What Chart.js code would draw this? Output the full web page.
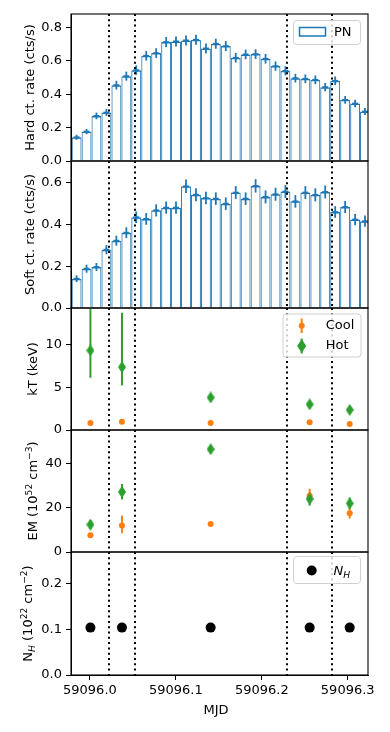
<!DOCTYPE html>
<html><head><meta charset="utf-8">
<script src="https://cdn.jsdelivr.net/npm/chart.js@4/dist/chart.umd.min.js"></script>
<style>
html,body{margin:0;padding:0;background:#fff;width:390px;height:732px;overflow:hidden;position:relative;}
canvas{position:absolute;left:0;}
</style></head><body>
<script>
// ---------------- DATA ----------------
const binMJD = [59095.9845,59095.9961,59096.0076,59096.0192,59096.0308,59096.0424,59096.0539,59096.0655,59096.0771,59096.0887,
  59096.1002,59096.1118,59096.1234,59096.1350,59096.1465,59096.1581,59096.1697,59096.1812,59096.1928,59096.2044,
  59096.2160,59096.2275,59096.2391,59096.2507,59096.2623,59096.2738,59096.2854,59096.2970,59096.3086,59096.3201];
const hardRate = [0.142,0.176,0.270,0.290,0.454,0.508,0.544,0.630,0.646,0.712,0.716,0.722,0.726,0.674,0.702,
  0.688,0.618,0.638,0.640,0.612,0.568,0.540,0.496,0.492,0.486,0.442,0.480,0.366,0.344,0.296];
const hardErr = [0.015,0.016,0.020,0.021,0.026,0.027,0.028,0.029,0.029,0.030,0.030,0.030,0.030,0.030,0.030,
  0.030,0.029,0.029,0.029,0.029,0.028,0.027,0.026,0.026,0.026,0.025,0.026,0.023,0.022,0.021];
const softRate = [0.140,0.188,0.196,0.279,0.322,0.360,0.434,0.426,0.467,0.480,0.480,0.582,0.542,0.526,0.523,
  0.499,0.552,0.523,0.584,0.531,0.544,0.557,0.510,0.552,0.541,0.555,0.459,0.483,0.423,0.415];
const softErr = [0.016,0.019,0.019,0.022,0.024,0.026,0.028,0.028,0.029,0.029,0.029,0.032,0.031,0.030,0.030,
  0.030,0.031,0.030,0.032,0.031,0.031,0.031,0.030,0.031,0.031,0.031,0.028,0.029,0.027,0.027];

const specMJD  = [59096.0006,59096.0373,59096.1405,59096.2557,59096.3023];
const kTCool   = [0.82,0.97,0.82,0.90,0.70];
const kTCoolLo = [0.76,0.89,0.77,0.84,0.64];
const kTCoolHi = [0.88,1.05,0.87,0.96,0.76];
const kTHot    = [9.3,7.35,3.8,3.0,2.35];
const kTHotLo  = [6.1,5.2,3.5,2.7,2.05];
const kTHotHi  = [16.5,13.7,4.1,3.3,2.65];
const emCool   = [7.6,12.0,12.7,25.5,17.5];
const emCoolLo = [6.5,8.5,11.9,23.0,15.2];
const emCoolHi = [8.7,16.5,13.5,28.6,19.8];
const emHot    = [12.4,27.2,46.5,24.0,22.0];
const emHotLo  = [10.4,23.8,44.8,21.0,19.5];
const emHotHi  = [14.4,30.8,48.3,27.0,24.6];
const nH       = [0.104,0.104,0.104,0.104,0.104];

const splitMJD  = [59096.0225,59096.0520,59096.2293,59096.2820];
const xTicks    = [59096.0,59096.1,59096.2,59096.3];
const hardTicks = [0,0.2,0.4,0.6,0.8];
const softTicks = [0,0.2,0.4,0.6];
const kTTicks   = [0,5,10];
const emTicks   = [0,20,40];
const nHTicks   = [0,0.1,0.2];

// ---------------- STYLE ----------------
const FONT = '"DejaVu Sans", sans-serif';
const BLUE = '#1f77b4', ORANGE = '#ff7f0e', GREEN = '#2ca02c';
const X_MIN = 59095.978, X_MAX = 59096.3236;
Chart.defaults.font.family = FONT;
Chart.defaults.font.size = 13;
Chart.defaults.color = '#000';

function drawRich(ctx, segs, x, y, rot, align, size){
  size = size || 13;
  ctx.save(); ctx.translate(x, y); ctx.rotate(rot || 0);
  const parts = segs.map(s => {
    const fs = (s.sup || s.sub) ? size * 0.7 : size;
    const font = (s.it ? 'italic ' : '') + fs + 'px ' + FONT;
    ctx.font = font;
    return {t: s.t, font, w: ctx.measureText(s.t).width, dy: s.sup ? -size * 0.38 : (s.sub ? size * 0.22 : 0)};
  });
  const total = parts.reduce((a, p) => a + p.w, 0);
  let cx = align === 'center' ? -total / 2 : 0;
  ctx.fillStyle = '#000'; ctx.textAlign = 'left'; ctx.textBaseline = 'alphabetic';
  const base = size * 0.36;
  parts.forEach(p => { ctx.font = p.font; ctx.fillText(p.t, cx, base + p.dy); cx += p.w; });
  ctx.restore();
}
function diamondPath(ctx, x, y, w, h){
  ctx.beginPath(); ctx.moveTo(x, y - h / 2); ctx.lineTo(x + w / 2, y); ctx.lineTo(x, y + h / 2); ctx.lineTo(x - w / 2, y); ctx.closePath();
}
function diamondImg(w, h, color){
  const c = document.createElement('canvas'); c.width = w; c.height = h;
  const g = c.getContext('2d'); g.fillStyle = color; diamondPath(g, w / 2, h / 2, w, h); g.fill();
  return c;
}
function legendBox(ctx, x, y, w, h){
  const r = 3;
  ctx.save();
  ctx.beginPath();
  ctx.moveTo(x + r, y); ctx.lineTo(x + w - r, y); ctx.arcTo(x + w, y, x + w, y + r, r);
  ctx.lineTo(x + w, y + h - r); ctx.arcTo(x + w, y + h, x + w - r, y + h, r);
  ctx.lineTo(x + r, y + h); ctx.arcTo(x, y + h, x, y + h - r, r);
  ctx.lineTo(x, y + r); ctx.arcTo(x, y, x + r, y, r); ctx.closePath();
  ctx.fillStyle = 'rgba(255,255,255,0.8)'; ctx.fill();
  ctx.strokeStyle = '#d0d0d0'; ctx.lineWidth = 1; ctx.stroke();
  ctx.restore();
}
function legendText(ctx, t, x, y){
  ctx.save(); ctx.font = '13px ' + FONT; ctx.fillStyle = '#000'; ctx.textAlign = 'left'; ctx.textBaseline = 'middle';
  ctx.fillText(t, x, y); ctx.restore();
}
function drawErrs(chart, list){
  const {ctx, chartArea: a, scales: {x, y}} = chart;
  ctx.save(); ctx.beginPath(); ctx.rect(a.left, a.top, a.right - a.left, a.bottom - a.top); ctx.clip();
  list.forEach(e => {
    ctx.strokeStyle = e.color; ctx.lineWidth = e.lw;
    e.xs.forEach((xv, i) => {
      const px = x.getPixelForValue(xv);
      ctx.beginPath(); ctx.moveTo(px, y.getPixelForValue(e.lo[i])); ctx.lineTo(px, y.getPixelForValue(e.hi[i])); ctx.stroke();
      if (e.mid && e.hw) {
        const py = y.getPixelForValue(e.mid[i]);
        ctx.beginPath(); ctx.moveTo(px - e.hw, py); ctx.lineTo(px + e.hw, py); ctx.stroke();
      }
    });
  });
  ctx.restore();
}
function panelPlugin(cfg){
  return {
    id: 'panel_' + cfg.key,
    beforeDatasetsDraw(chart){ drawErrs(chart, cfg.errsBelow || []); },
    afterDatasetsDraw(chart){
      drawErrs(chart, cfg.errsAbove || []);
      const {ctx, chartArea: a, scales: {x}} = chart;
      ctx.save();
      ctx.strokeStyle = '#000'; ctx.lineWidth = 2; ctx.setLineDash([2, 3.3]);
      splitMJD.forEach(v => {
        const px = Math.round(x.getPixelForValue(v));
        ctx.beginPath(); ctx.moveTo(px, a.top); ctx.lineTo(px, a.bottom); ctx.stroke();
      });
      ctx.restore();
      ctx.save(); ctx.strokeStyle = '#000'; ctx.lineWidth = 1.1;
      ctx.strokeRect(a.left, a.top, a.right - a.left, a.bottom - a.top); ctx.restore();
    },
    afterDraw(chart){
      const {ctx, chartArea: a} = chart;
      drawRich(ctx, cfg.ytitle, cfg.titleX, (a.top + a.bottom) / 2, -Math.PI / 2, 'center');
      ctx.save(); ctx.translate(0, -cfg.top);
      if (cfg.legend) cfg.legend(ctx);
      if (cfg.xtitle) drawRich(ctx, [{t: cfg.xtitle}], 216, 709, 0, 'center');
      ctx.restore();
    }
  };
}
function xAxis(show){
  return {
    type: 'linear', min: X_MIN, max: X_MAX, display: show, offset: false,
    afterBuildTicks: s => { s.ticks = xTicks.map(v => ({value: v})); },
    afterFit: s => { if (show) s.height = 57; },
    ticks: {autoSkip: false, maxRotation: 0, padding: 3, callback: v => Number(v).toFixed(1), font: {size: 13, family: FONT}, color: '#000'},
    grid: {drawOnChartArea: false, offset: false, tickLength: 5, color: '#000', lineWidth: 1},
    border: {display: true, color: '#000', width: 1},
    title: {display: false}
  };
}
function yAxis(min, max, ticks, dec){
  return {
    type: 'linear', min, max, beginAtZero: true,
    afterBuildTicks: s => { s.ticks = ticks.map(v => ({value: v})); },
    afterFit: s => { s.width = 71; },
    ticks: {autoSkip: false, padding: 4, callback: v => Number(v).toFixed(dec), font: {size: 13, family: FONT}, color: '#000'},
    grid: {drawOnChartArea: false, tickLength: 5, color: '#000', lineWidth: 1},
    border: {display: true, color: '#000', width: 1},
    title: {display: false}
  };
}
function makeCanvas(top, h){
  const c = document.createElement('canvas');
  c.width = 390; c.height = h;
  c.style.top = top + 'px'; c.style.width = '390px'; c.style.height = h + 'px';
  document.body.appendChild(c);
  return c;
}
function baseOptions(last, y){
  return {
    responsive: false, animation: false, events: [], devicePixelRatio: 1,
    layout: {padding: {left: 0, right: 22, top: 14, bottom: last ? 0 : 14}},
    plugins: {legend: {display: false}, tooltip: {enabled: false}},
    scales: {x: xAxis(last), y}
  };
}
const PAD = 14;
const HIST_BORDER = {top: 1.5, left: 0.95, right: 0.95, bottom: 0};
// Panel 1: hard
(function(){
  const top = 14 - PAD, h = 147 + 2 * PAD;
  new Chart(makeCanvas(top, h), {
    type: 'bar',
    data: {datasets: [{
      data: binMJD.map((x, i) => ({x, y: hardRate[i]})),
      borderColor: BLUE, backgroundColor: 'rgba(0,0,0,0)',
      borderWidth: HIST_BORDER, borderSkipped: false, inflateAmount: 0,
      categoryPercentage: 1, barPercentage: 1
    }]},
    options: baseOptions(false, yAxis(0, 0.88, hardTicks, 1)),
    plugins: [panelPlugin({
      key: 'hard', top, titleX: 29.5, ytitle: [{t: 'Hard ct. rate (cts/s)'}],
      errsAbove: [{xs: binMJD, lo: hardRate.map((v, i) => v - hardErr[i]), hi: hardRate.map((v, i) => v + hardErr[i]), mid: hardRate, hw: 3, color: BLUE, lw: 1.8}],
      legend: ctx => {
        legendBox(ctx, 293.5, 20.5, 67, 24);
        ctx.save(); ctx.strokeStyle = BLUE; ctx.lineWidth = 1.5; ctx.strokeRect(299.5, 27.5, 26, 8.5); ctx.restore();
        legendText(ctx, 'PN', 334, 32.5);
      }
    })]
  });
})();
// Panel 2: soft
(function(){
  const top = 161 - PAD, h = 147 + 2 * PAD;
  new Chart(makeCanvas(top, h), {
    type: 'bar',
    data: {datasets: [{
      data: binMJD.map((x, i) => ({x, y: softRate[i]})),
      borderColor: BLUE, backgroundColor: 'rgba(0,0,0,0)',
      borderWidth: HIST_BORDER, borderSkipped: false, inflateAmount: 0,
      categoryPercentage: 1, barPercentage: 1
    }]},
    options: baseOptions(false, yAxis(0, 0.703, softTicks, 1)),
    plugins: [panelPlugin({
      key: 'soft', top, titleX: 29, ytitle: [{t: 'Soft ct. rate (cts/s)'}],
      errsAbove: [{xs: binMJD, lo: softRate.map((v, i) => v - softErr[i]), hi: softRate.map((v, i) => v + softErr[i]), mid: softRate, hw: 3, color: BLUE, lw: 1.8}]
    })]
  });
})();
const hotImg = diamondImg(8, 12, GREEN);
// Panel 3: kT
(function(){
  const top = 308 - PAD, h = 122 + 2 * PAD;
  new Chart(makeCanvas(top, h), {
    type: 'scatter',
    data: {datasets: [
      {label: 'Hot', data: specMJD.map((x, i) => ({x, y: kTHot[i]})), pointStyle: hotImg, pointRadius: 6, order: 0},
      {label: 'Cool', data: specMJD.map((x, i) => ({x, y: kTCool[i]})), pointStyle: 'circle', pointRadius: 3, backgroundColor: ORANGE, borderColor: ORANGE, borderWidth: 0, order: 1}
    ]},
    options: baseOptions(false, yAxis(0, 14.25, kTTicks, 0)),
    plugins: [panelPlugin({
      key: 'kt', top, titleX: 32.3, ytitle: [{t: 'kT (keV)'}],
      errsBelow: [
        {xs: specMJD, lo: kTCoolLo, hi: kTCoolHi, color: ORANGE, lw: 2},
        {xs: specMJD, lo: kTHotLo, hi: kTHotHi, color: GREEN, lw: 2}
      ],
      legend: ctx => {
        legendBox(ctx, 283, 314, 78, 43);
        ctx.save();
        ctx.strokeStyle = ORANGE; ctx.lineWidth = 2; ctx.beginPath(); ctx.moveTo(301.7, 318.5); ctx.lineTo(301.7, 333); ctx.stroke();
        ctx.fillStyle = ORANGE; ctx.beginPath(); ctx.arc(301.7, 325.7, 3, 0, Math.PI * 2); ctx.fill();
        ctx.strokeStyle = GREEN; ctx.beginPath(); ctx.moveTo(301.7, 338.5); ctx.lineTo(301.7, 353.5); ctx.stroke();
        ctx.fillStyle = GREEN; diamondPath(ctx, 301.7, 346, 9, 14); ctx.fill();
        ctx.restore();
        legendText(ctx, 'Cool', 325.7, 326);
        legendText(ctx, 'Hot', 325.7, 346);
      }
    })]
  });
})();
// Panel 4: EM
(function(){
  const top = 430 - PAD, h = 122 + 2 * PAD;
  new Chart(makeCanvas(top, h), {
    type: 'scatter',
    data: {datasets: [
      {label: 'Hot', data: specMJD.map((x, i) => ({x, y: emHot[i]})), pointStyle: hotImg, pointRadius: 6, order: 0},
      {label: 'Cool', data: specMJD.map((x, i) => ({x, y: emCool[i]})), pointStyle: 'circle', pointRadius: 3, backgroundColor: ORANGE, borderColor: ORANGE, borderWidth: 0, order: 1}
    ]},
    options: baseOptions(false, yAxis(0, 55.2, emTicks, 0)),
    plugins: [panelPlugin({
      key: 'em', top, titleX: 32,
      ytitle: [{t: 'EM (10'}, {t: '52', sup: 1}, {t: ' cm'}, {t: '\u22123', sup: 1}, {t: ')'}],
      errsBelow: [
        {xs: specMJD, lo: emCoolLo, hi: emCoolHi, color: ORANGE, lw: 2},
        {xs: specMJD, lo: emHotLo, hi: emHotHi, color: GREEN, lw: 2}
      ]
    })]
  });
})();
// Panel 5: NH
(function(){
  const top = 552 - PAD, h = 732 - top;
  new Chart(makeCanvas(top, h), {
    type: 'scatter',
    data: {datasets: [
      {label: 'NH', data: specMJD.map((x, i) => ({x, y: nH[i]})), pointStyle: 'circle', pointRadius: 5, backgroundColor: '#000', borderColor: '#000', borderWidth: 0}
    ]},
    options: baseOptions(true, yAxis(0, 0.27, nHTicks, 1)),
    plugins: [panelPlugin({
      key: 'nh', top, titleX: 27.5, xtitle: 'MJD',
      ytitle: [{t: 'N'}, {t: 'H', sub: 1, it: 1}, {t: ' (10'}, {t: '22', sup: 1}, {t: ' cm'}, {t: '\u22122', sup: 1}, {t: ')'}],
      legend: ctx => {
        legendBox(ctx, 293.5, 556.5, 67, 27);
        ctx.save(); ctx.fillStyle = '#000'; ctx.beginPath(); ctx.arc(311.7, 570.5, 5, 0, Math.PI * 2); ctx.fill(); ctx.restore();
        drawRich(ctx, [{t: 'N', it: 1}, {t: 'H', sub: 1, it: 1}], 333.5, 570, 0, 'left');
      }
    })]
  });
})();
</script>
</body></html>
